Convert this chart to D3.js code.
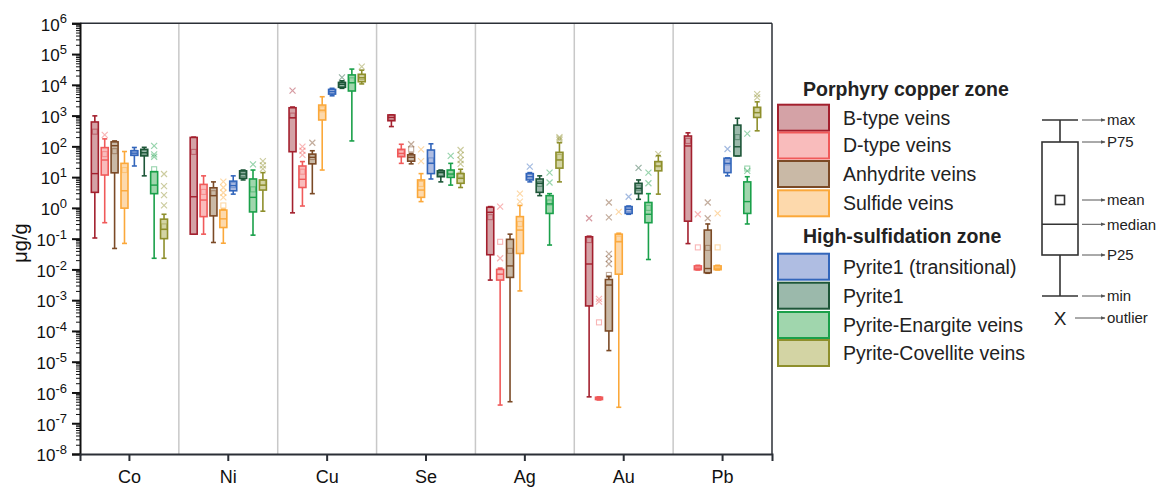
<!DOCTYPE html>
<html>
<head>
<meta charset="utf-8">
<script src="https://cdn.jsdelivr.net/npm/d3@7"></script>
<style>
  body { margin: 0; background: #fff; }
  svg { font-family: "Liberation Sans", Arial, sans-serif; }
</style>
</head>
<body>
<div id="chart"></div>
<script>
/* Data */
const elements = ["Co", "Ni", "Cu", "Se", "Ag", "Au", "Pb"];
const seriesNames = ["B-type veins", "D-type veins", "Anhydrite veins", "Sulfide veins",
  "Pyrite1 (transitional)", "Pyrite1", "Pyrite-Enargite veins", "Pyrite-Covellite veins"];
const zoneTitles = ["Porphyry copper zone", "High-sulfidation zone"];
const seriesStroke = ["#a3202e", "#f05a5a", "#7b4a26", "#fba83a", "#3366bb", "#1d5638", "#1aa04a", "#8e8f2c"];
const seriesFill = ["#d4a2a6", "#f9bcbc", "#c9b9a6", "#fdd9ac", "#afbde2", "#9bb9ab", "#a0d6ad", "#d3d4a4"];
const yTickExp = [6, 5, 4, 3, 2, 1, 0, -1, -2, -3, -4, -5, -6, -7, -8];

// each row: [min, P25, median, P75, max, mean], one row per series
const coStats = [[0.105, 3.2, 13, 620, 980, 300], [0.33, 11.7, 36, 91, 175, 56], [0.048, 13.8, 105, 140, 150, 70], [0.07, 0.98, 3.6, 28, 68, 17],
  [23, 51, 60, 72, 92, 62], [11, 49, 62, 80, 93, 63], [0.023, 2.9, 5.5, 15, 15, 18], [0.023, 0.1, 0.2, 0.43, 0.62, 0.25]];
const niStats = [[0.14, 0.14, 2.3, 195, 200, 66], [0.14, 0.52, 1.8, 5.8, 11, 3.3], [0.075, 0.55, 2.5, 4.5, 7, 3], [0.071, 0.23, 0.44, 0.85, 0.9, 1.2],
  [2.8, 3.6, 5.3, 7.4, 11, 5.5], [8.1, 9.1, 12.6, 16, 17, 12.5], [0.13, 0.74, 2.2, 8.7, 17, 4], [0.78, 3.8, 5.5, 8.1, 14, 6.5]];
const cuStats = [[0.69, 67, 850, 1800, 1900, 1000], [1.15, 4.6, 8.5, 23, 32, 15], [2.9, 27, 44, 56, 72, 45], [17, 720, 1500, 2200, 4100, 1600],
  [4400, 5000, 6000, 7100, 7700, 6000], [7700, 8300, 10400, 12000, 13500, 10500], [150, 6300, 11700, 21000, 32500, 14000], [10700, 12600, 17000, 22000, 30000, 18000]];
const seStats = [[440, 680, 870, 1050, 1050, 870], [28, 46, 59, 80, 117, 62], [27, 33, 44, 53, 59, 80], [1.6, 2.2, 3.8, 8.1, 13, 6],
  [8.7, 13, 28, 76, 121, 35], [7, 10.3, 14, 16, 17, 13.5], [5.5, 9.8, 12.6, 17, 28, 14], [4.6, 6.3, 9.1, 13, 18, 12]];
const agStats = [[0.0045, 0.03, 0.72, 1.05, 1.1, 0.5], [3.9e-7, 0.0045, 0.007, 0.01, 0.011, 0.079], [5e-7, 0.0055, 0.013, 0.095, 0.14, 0.04], [0.002, 0.033, 0.19, 0.52, 1.2, 0.3],
  [7, 8.1, 10.3, 13, 14, 10.5], [2.5, 3.2, 6.3, 8.7, 11, 6], [0.062, 0.66, 1.35, 2.5, 2.9, 1.5], [7, 19.6, 36, 64, 131, 45]];
const auStats = [[7.2e-7, 6.5e-4, 0.015, 0.115, 0.12, 0.09], [5.7e-7, 5.9e-7, 6.4e-7, 7e-7, 7.2e-7, 1.9e-4], [2.3e-5, 1e-4, 0.0031, 0.0047, 0.006, 0.0066], [3.3e-7, 0.007, 0.079, 0.14, 0.15, 0.1],
  [0.62, 0.66, 0.9, 1.1, 1.15, 0.9], [1.9, 2.9, 4.3, 6.3, 8.1, 4.5], [0.021, 0.33, 0.62, 1.5, 2.9, 1], [2.8, 16, 23, 32, 50, 26]];
const pbStats = [[0.069, 0.37, 103, 217, 275, 150], [0.0096, 0.0098, 0.011, 0.013, 0.0136, 0.052], [0.0075, 0.0078, 0.0107, 0.19, 0.3, 0.05], [0.0096, 0.0098, 0.011, 0.013, 0.0136, 0.052],
  [11, 14, 28, 41, 42, 30], [49, 49, 97, 490, 820, 200], [0.3, 0.66, 1.6, 7, 10.3, 19], [320, 870, 1250, 1860, 2800, 1500]];

// outliers, one list per series
const coOut = [[], [235], [], [], [], [], [104, 55, 46], [12.6, 5.1, 2.6, 1.2]];
const niOut = [[], [], [], [7.1, 4.6, 3.1, 2.2], [], [], [26], [33, 24, 18.6]];
const cuOut = [[6500], [98, 72, 53], [131], [], [], [17500], [], [39000]];
const seOut = [[], [], [117], [80, 33], [], [], [49], [76, 53, 36, 27]];
const agOut = [[], [1.1, 0.023], [], [2.9, 1.6], [22], [], [14, 6.7], [200, 180, 160]];
const auOut = [[0.46], [1.1e-3, 9e-4], [1.5, 0.49, 0.032, 0.022, 0.015], [0.74], [2.3], [20], [14, 6.3], [56]];
const pbOut = [[], [0.62], [1.5, 0.46], [0.66], [82], [], [260, 16], [5000, 3900]];

const allStats = [coStats, niStats, cuStats, seStats, agStats, auStats, pbStats];
const allOut = [coOut, niOut, cuOut, seOut, agOut, auOut, pbOut];

/* Layout */
const W = 1163, H = 488;
const plot = { left: 80, right: 772, top: 23.3, bottom: 454 };

const svg = d3.select("#chart").append("svg")
  .attr("width", W).attr("height", H);

const x = d3.scaleBand().domain(elements).range([plot.left, plot.right]).padding(0);
const xs = d3.scalePoint().domain(d3.range(seriesNames.length)).range([0, x.bandwidth()]).padding(1.5);
const y = d3.scaleLog().domain([1e-8, 1e6]).range([plot.bottom, plot.top]);

// group separators
svg.append("g").selectAll("line")
  .data(elements.slice(1))
  .join("line")
  .attr("x1", d => x(d)).attr("x2", d => x(d))
  .attr("y1", plot.top).attr("y2", plot.bottom)
  .attr("stroke", "#c8c8c8").attr("stroke-width", 1.5);

// frame top / right
svg.append("line").attr("x1", plot.left).attr("x2", plot.right)
  .attr("y1", plot.top).attr("y2", plot.top).attr("stroke", "#2b2f36").attr("stroke-width", 1.5);
svg.append("line").attr("x1", plot.right).attr("x2", plot.right)
  .attr("y1", plot.top).attr("y2", plot.bottom).attr("stroke", "#2b2f36").attr("stroke-width", 1.5);

// y axis: minor ticks
const minorVals = [];
for (let e = -8; e < 6; e++) for (let m = 2; m <= 9; m++) minorVals.push(m * Math.pow(10, e));
svg.append("g")
  .attr("transform", `translate(${plot.left},0)`)
  .call(d3.axisLeft(y).tickValues(minorVals).tickSize(4).tickFormat(""))
  .call(g => g.select(".domain").remove())
  .selectAll("line").attr("stroke", "#111").attr("stroke-width", 1);

// y axis: major ticks
const yAxis = svg.append("g")
  .attr("transform", `translate(${plot.left},0)`)
  .call(d3.axisLeft(y).tickValues(yTickExp.map(e => Math.pow(10, e))).tickSize(8).tickPadding(5).tickFormat(""));
yAxis.select(".domain").attr("stroke", "#111").attr("stroke-width", 2);
yAxis.selectAll(".tick line").attr("stroke", "#111").attr("stroke-width", 2);
yAxis.selectAll(".tick text")
  .attr("font-size", 17).attr("fill", "#111").attr("dy", "0.4em")
  .each(function (d) {
    const t = d3.select(this);
    t.text("10");
    t.append("tspan").attr("dy", "-0.55em").attr("font-size", 13)
      .text(Math.round(Math.log10(d)).toString());
  });

// x axis
const xAxis = svg.append("g")
  .attr("transform", `translate(0,${plot.bottom})`)
  .call(d3.axisBottom(x).tickSize(7).tickPadding(9));
xAxis.select(".domain").attr("stroke", "#2b2f36").attr("stroke-width", 2);
xAxis.selectAll(".tick line").attr("stroke", "#2b2f36").attr("stroke-width", 2);
xAxis.selectAll(".tick text").attr("font-size", 18).attr("fill", "#111");

// y title
svg.append("text")
  .attr("transform", "translate(27,243) rotate(-90)")
  .attr("text-anchor", "middle")
  .attr("font-size", 20).attr("fill", "#111")
  .text("μg/g");

/* Boxes */
const boxW = 7, capW = 5, markR = 3;
const boxG = svg.append("g");
elements.forEach((el, ei) => {
  allStats[ei].forEach((s, si) => {
    const [mn, q1, md, q3, mx, mean] = s;
    const cx = x(el) + xs(si);
    const col = seriesStroke[si];
    const g = boxG.append("g");
    // whiskers
    g.append("line").attr("x1", cx).attr("x2", cx).attr("y1", y(mx)).attr("y2", y(q3))
      .attr("stroke", col).attr("stroke-width", 1.6);
    g.append("line").attr("x1", cx).attr("x2", cx).attr("y1", y(q1)).attr("y2", y(mn))
      .attr("stroke", col).attr("stroke-width", 1.6);
    [mn, mx].forEach(v => {
      g.append("line").attr("x1", cx - capW / 2).attr("x2", cx + capW / 2)
        .attr("y1", y(v)).attr("y2", y(v)).attr("stroke", col).attr("stroke-width", 1.6);
    });
    // box
    g.append("rect")
      .attr("x", cx - boxW / 2).attr("width", boxW)
      .attr("y", y(q3)).attr("height", Math.max(2, y(q1) - y(q3)))
      .attr("fill", seriesFill[si]).attr("stroke", col).attr("stroke-width", 1.6);
    g.append("line").attr("x1", cx - boxW / 2).attr("x2", cx + boxW / 2)
      .attr("y1", y(md)).attr("y2", y(md)).attr("stroke", col).attr("stroke-width", 1.4);
    // mean
    g.append("rect")
      .attr("x", cx - 2.5).attr("y", y(mean) - 2.5).attr("width", 5).attr("height", 5)
      .attr("fill", "none").attr("stroke", col).attr("stroke-opacity", 0.45).attr("stroke-width", 1.1);
    // outliers
    allOut[ei][si].forEach(v => {
      const oy = y(v);
      g.append("path")
        .attr("d", `M${cx - markR},${oy - markR}L${cx + markR},${oy + markR}M${cx - markR},${oy + markR}L${cx + markR},${oy - markR}`)
        .attr("stroke", col).attr("stroke-opacity", 0.45).attr("stroke-width", 1.2).attr("fill", "none");
    });
  });
});

/* Legend */
const legend = svg.append("g");
const rowY = [117.7, 145.5, 174, 203.3, 266.7, 295.7, 325, 353];
const titleY = [89, 236];
zoneTitles.forEach((t, i) => {
  legend.append("text").attr("x", 803).attr("y", titleY[i]).attr("dy", "0.35em")
    .attr("font-size", 19.5).attr("font-weight", "bold").attr("fill", "#222").text(t);
});
seriesNames.forEach((n, i) => {
  legend.append("rect").attr("x", 778).attr("y", rowY[i] - 13).attr("width", 51).attr("height", 26)
    .attr("fill", seriesFill[i]).attr("stroke", seriesStroke[i]).attr("stroke-width", 2);
  legend.append("text").attr("x", 843).attr("y", rowY[i]).attr("dy", "0.35em")
    .attr("font-size", 19.5).attr("fill", "#222").text(n);
});

/* Box explanation */
const ex = svg.append("g").attr("stroke", "#333").attr("fill", "none").attr("stroke-width", 1.6);
const exL = 1042, exR = 1078, exC = 1060;
const exY = { max: 120, p75: 142, mean: 200, median: 224.3, p25: 255, min: 296, outlier: 318 };
ex.append("line").attr("x1", exL).attr("x2", exR).attr("y1", exY.max).attr("y2", exY.max);
ex.append("line").attr("x1", exL).attr("x2", exR).attr("y1", exY.min).attr("y2", exY.min);
ex.append("line").attr("x1", exC).attr("x2", exC).attr("y1", exY.max).attr("y2", exY.p75);
ex.append("line").attr("x1", exC).attr("x2", exC).attr("y1", exY.p25).attr("y2", exY.min);
ex.append("rect").attr("x", exL).attr("y", exY.p75).attr("width", exR - exL).attr("height", exY.p25 - exY.p75);
ex.append("line").attr("x1", exL).attr("x2", exR).attr("y1", exY.median).attr("y2", exY.median);
ex.append("rect").attr("x", exC - 4.5).attr("y", exY.mean - 4.5).attr("width", 9).attr("height", 9);
svg.append("text").attr("x", exC).attr("y", exY.outlier).attr("dy", "0.35em").attr("text-anchor", "middle")
  .attr("font-size", 19).attr("fill", "#222").text("X");
const exLabels = [["max", exY.max], ["P75", exY.p75], ["mean", exY.mean], ["median", exY.median],
  ["P25", exY.p25], ["min", exY.min], ["outlier", exY.outlier]];
svg.append("defs").append("marker").attr("id", "arr").attr("viewBox", "0 0 10 10")
  .attr("refX", 9).attr("refY", 5).attr("markerWidth", 5).attr("markerHeight", 5).attr("orient", "auto")
  .append("path").attr("d", "M0,1L10,5L0,9z").attr("fill", "#555");
exLabels.forEach(([t, yy]) => {
  svg.append("line").attr("x1", t === "outlier" ? 1075 : 1082).attr("x2", 1105).attr("y1", yy).attr("y2", yy)
    .attr("stroke", "#555").attr("stroke-width", 1).attr("marker-end", "url(#arr)");
  svg.append("text").attr("x", 1107).attr("y", yy).attr("dy", "0.35em")
    .attr("font-size", 15).attr("fill", "#222").text(t);
});
</script>
</body>
</html>
